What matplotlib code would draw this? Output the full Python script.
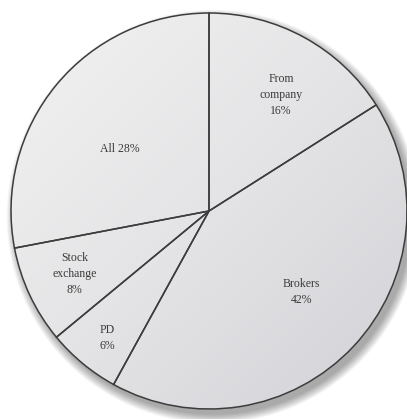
import numpy as np
import matplotlib
matplotlib.use("Agg")
import matplotlib.pyplot as plt
from matplotlib.patches import Circle
from matplotlib.colors import LinearSegmentedColormap

sources = ["From\ncompany", "Brokers", "PD", "Stock\nexchange", "All"]
shares = [16, 42, 6, 8, 28]

# label placement: distance from centre and a small turn off the wedge middle
label_radius = [0.69, 0.62, 0.82, 0.75, 0.55]
label_turn = [-3, 2, 1, 0, 5]

plt.rcParams['font.family'] = ['Liberation Serif', 'DejaVu Serif']

fig = plt.figure(figsize=(4.07, 4.19), dpi=100)
ax = fig.add_axes([0, 0, 1, 1])
ax.axis('off')

# soft drop shadow, bottom right
for k in range(12):
    ax.add_patch(Circle((0.022, -0.028), 1.0 + 0.004 * k, color='black',
                        alpha=0.03, lw=0, zorder=0))

# light grey fill, darker towards the bottom right
cmap = LinearSegmentedColormap.from_list('fill', ['#f2f2f2', '#e4e4e6', '#d2d2d7'])
xx, yy = np.meshgrid(np.linspace(-1, 1, 300), np.linspace(1, -1, 300))
grad = (xx - yy) / 2.0
face = ax.imshow(grad, cmap=cmap, extent=(-1, 1, -1, 1), origin='upper',
                 vmin=-1, vmax=1, zorder=1, interpolation='bilinear')
face.set_clip_path(Circle((0, 0), 1.0, transform=ax.transData))

wedges, _ = ax.pie(shares, startangle=90, counterclock=False, radius=1.0,
                   wedgeprops=dict(facecolor='none', edgecolor='#3c3c3c', linewidth=1.1))
for w in wedges:
    w.set_zorder(2)
ax.set_xlim(-209 / 198, (407 - 209) / 198)
ax.set_ylim(-(419 - 211) / 198, 211 / 198)
ax.set_aspect('auto')

for w, name, pct, r, turn in zip(wedges, sources, shares, label_radius, label_turn):
    mid = np.deg2rad((w.theta1 + w.theta2) / 2 + turn)
    text = f"{name} {pct}%" if name == "All" else f"{name}\n{pct}%"
    ax.text(r * np.cos(mid), r * np.sin(mid), text, ha='center', va='center',
            fontsize=8.5, color='#3a3a3a', linespacing=1.45, zorder=3)

fig.savefig("out.png", dpi=100)
